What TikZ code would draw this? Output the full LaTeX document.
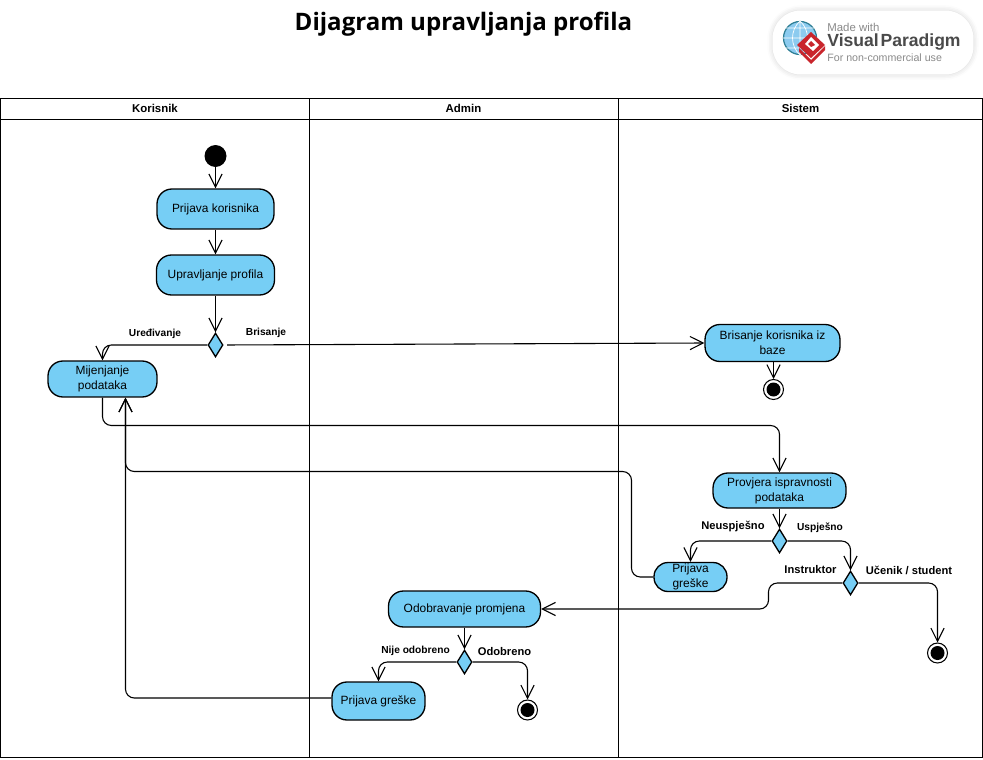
\documentclass[tikz,border=0pt]{standalone}
\usepackage{fontspec}
\setmainfont{Liberation Sans}
\newfontfamily\titlefont{Open Sans}
\usetikzlibrary{arrows.meta,shapes.geometric,shadows.blur}
\definecolor{actblue}{HTML}{76CEF5}
\definecolor{vpgray}{HTML}{8A8A8A}
\definecolor{vpdark}{HTML}{4A4A4A}
\definecolor{vpred}{HTML}{C9252C}
\definecolor{vpglobe}{HTML}{8CCBEF}
\definecolor{vpteal}{HTML}{2F7F95}
\begin{document}
\begin{tikzpicture}[
    x=0.02cm, y=-0.02cm,
    act/.style={draw=black, fill=actblue, line width=0.75pt, rounded corners=8.5pt,
                font=\fontsize{6.8}{8.6}\selectfont, align=center, inner sep=0pt},
    dec/.style={draw=black, fill=actblue, line width=0.75pt, diamond, inner sep=0pt,
                minimum width=0.3cm, minimum height=0.48cm},
    arr/.style={-{Straight Barb[length=7.5pt,width=7.5pt]}, line width=0.62pt, rounded corners=5pt},
    lane/.style={minimum width=6.18cm, minimum height=0.42cm,
                 font=\fontsize{6.5}{8}\selectfont\bfseries, inner sep=0pt},
    lbl/.style={font=\fontsize{5.8}{8}\selectfont\bfseries},
    lblb/.style={font=\fontsize{6.35}{8}\selectfont\bfseries},
    startdot/.style={circle, fill=black, minimum size=0.44cm, inner sep=0pt},
    enddot/.style={circle, draw=black, fill=white, line width=0.6pt, minimum size=0.4cm, inner sep=0pt,
                   path picture={\fill[black] (path picture bounding box.center) circle (0.14cm);}},
]
\useasboundingbox (0,0) rectangle (983,760);

% Title
\node[font=\fontsize{13.7}{16}\selectfont\titlefont\bfseries] (title) at (463.5,24) {Dijagram upravljanja profila};

% Badge
\node[draw=none, fill=white, rounded corners=16pt, minimum width=4.02cm, minimum height=1.28cm,
      blur shadow={shadow xshift=0pt, shadow yshift=0pt, shadow blur radius=3pt, shadow opacity=18}]
      (badge) at (873,42.5) {};
\fill[vpglobe] (800,38) circle (0.33cm);
\draw[vpteal, line width=0.7pt] (800,38) circle (0.33cm);
\draw[white, line width=0.4pt] (783,38) -- (817,38) (800,21) -- (800,55)
    (786,28) -- (814,28) (786,48) -- (814,48) (800,21) .. controls (790,30) and (790,46) .. (800,55)
    (800,21) .. controls (810,30) and (810,46) .. (800,55);
\fill[vpred] (799,52) -- (811,64) -- (825,50) -- (825,46) -- (811,60) -- (799,48) -- cycle;
\fill[vpred] (811,32) -- (825,45) -- (811,58) -- (797,45) -- cycle;
\fill[white] (811,37) -- (819,45) -- (813,51) -- (805,44) -- cycle;
\fill[vpred] (811,41) -- (815,45) -- (811,47) -- (808,44) -- cycle;
\node[anchor=west, inner sep=0pt, text=vpgray, font=\fontsize{6.5}{8}\selectfont] (made) at (827,27) {Made with};
\node[anchor=west, inner sep=0pt, text=vpdark, font=\fontsize{10}{12}\selectfont\bfseries] (vp) at (827,42) {Visual\kern1pt Paradigm};
\node[anchor=west, inner sep=0pt, text=vpgray, font=\fontsize{6.05}{8}\selectfont] (noncom) at (827,57.5) {For non-commercial use};

% Swimlanes
\draw[line width=0.57pt] (0.5,98.5) rectangle (982.5,757.5);
\draw[line width=0.57pt] (309.5,98.5) -- (309.5,757.5) (618.5,98.5) -- (618.5,757.5);
\draw[line width=0.57pt] (0.5,119.5) -- (982.5,119.5);
\node[lane] (korisnik) at (155,108.5) {Korisnik};
\node[lane] (admin)    at (463.5,108.5) {Admin};
\node[lane, minimum width=7.2cm] (sistem) at (800.5,108.5) {Sistem};

% Nodes
\node[startdot] (start) at (215.5,156) {};
\node[act, minimum width=2.34cm, minimum height=0.8cm] (prijava) at (215.5,209) {Prijava korisnika};
\node[act, minimum width=2.36cm, minimum height=0.8cm] (profil) at (215.5,275) {Upravljanje profila};
\node[dec] (odluka) at (215.5,345) {};
\node[act, minimum width=2.18cm, minimum height=0.72cm] (mijenjanje) at (102.5,379) {Mijenjanje\\podataka};
\node[act, minimum width=2.7cm, minimum height=0.74cm] (brisanje) at (772.5,343) {Brisanje korisnika iz\\baze};
\node[enddot] (krajb) at (773.5,389.5) {};
\node[act, minimum width=2.66cm, minimum height=0.7cm] (provjera) at (779.5,490.5) {Provjera ispravnosti\\podataka};
\node[dec] (ispravno) at (779.5,541) {};
\node[act, minimum width=1.46cm, minimum height=0.58cm, rounded corners=8pt] (greskas) at (690.5,577) {Prijava\\greške};
\node[dec] (uloga) at (850.5,583) {};
\node[enddot] (krajs) at (937.5,653) {};
\node[act, minimum width=3.04cm, minimum height=0.72cm] (odobravanje) at (464.5,609) {Odobravanje promjena};
\node[dec] (odobreno) at (464.5,662) {};
\node[act, minimum width=1.86cm, minimum height=0.76cm] (greskaa) at (378.5,701) {Prijava greške};
\node[enddot] (kraja) at (527.5,710) {};

% Main flow
\draw[arr] (start) -- (prijava);
\draw[arr] (prijava) -- (profil);
\draw[arr] (profil) -- (odluka.north);

% Profile decision
\draw[arr] (odluka.west) -| (mijenjanje.north);
\draw[arr, shorten <=2pt] (odluka.east) -- (brisanje.west);
\draw[arr] (brisanje.south -| krajb) -- (krajb.north);

% Change data -> check
\draw[arr] (mijenjanje.south) |- (779.5,425.5) -- (provjera.north);
\draw[arr] (provjera.south) -- (ispravno.north);

% Check decision
\draw[arr] (ispravno.west) -| (greskas.north);
\draw[arr] (ispravno.east) -| (uloga.north);
\draw[arr] (greskas.west) -| (631.5,471.5) -| ([xshift=0.46cm]mijenjanje.south);

% Role decision
\draw[arr] (uloga.west) -| (768.5,609) -- (odobravanje.east);
\draw[arr] (uloga.east) -| (krajs.north);

% Approval decision
\draw[arr] (odobravanje.south) -- (odobreno.north);
\draw[arr] (odobreno.west) -| (greskaa.north);
\draw[arr] (odobreno.east) -| (kraja.north);
\draw[arr] ([yshift=0.06cm]greskaa.west) -| ([xshift=0.46cm]mijenjanje.south);

% Labels
\node[lbl] (luredi) at (155,334) {Uređivanje};
\node[lbl] (lbris) at (266,333) {Brisanje};
\node[lblb] (lneus) at (733,526) {Neuspješno};
\node[lbl] (lusp) at (820,528) {Uspješno};
\node[lblb] (linst) at (810.5,570) {Instruktor};
\node[lblb] (luce) at (909,570) {Učenik / student};
\node[lbl] (lnije) at (415.5,651) {Nije odobreno};
\node[lblb] (lodo) at (504.5,652) {Odobreno};

\end{tikzpicture}
\end{document}
